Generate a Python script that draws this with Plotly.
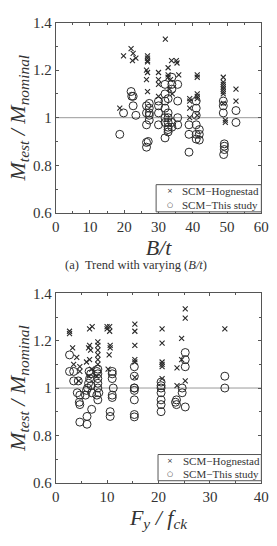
import plotly.graph_objects as go

# ---- (a) B/t ----
bt_hog_x = [18.7, 19.8, 22.0, 22.6, 22.4, 23.4,
            26.8, 26.8, 26.8, 26.8, 26.5, 26.5, 26.8, 26.8,
            30.0, 30.0, 30.0, 30.0,
            32.0, 32.8, 32.8, 32.8, 33.2, 33.8, 35.2, 35.4, 35.9, 34.0, 33.5,
            39.1, 39.1, 39.1, 39.1,
            41.3, 41.3, 41.3, 41.3, 41.3, 41.3,
            48.9, 48.9, 48.9, 48.9, 48.9, 48.9, 48.9, 48.9, 49.5, 49.5,
            52.6, 52.6]
bt_hog_y = [1.04, 1.26, 1.29, 1.27, 1.24, 1.25,
            1.26, 1.25, 1.24, 1.235, 1.20, 1.16, 1.19, 1.11,
            1.19, 1.16, 1.14, 1.09,
            1.33, 1.21, 1.18, 1.17, 1.12, 1.24, 1.24, 1.23, 1.18, 1.10, 1.16,
            1.08, 1.07, 1.04, 1.00,
            1.18, 1.17, 1.10, 1.09, 1.08, 1.01,
            1.17, 1.15, 1.14, 1.13, 1.12, 1.11, 1.10, 1.06, 0.99, 0.98,
            1.12, 1.07]
bt_this_x = [18.7, 19.8, 22.0, 22.2, 22.6, 22.6, 23.4,
             26.5, 26.5, 26.5, 26.5, 26.5, 27.3, 27.3, 27.3, 27.3, 27.3, 27.0,
             30.0, 30.0, 30.0, 30.0,
             31.9, 31.9, 31.9, 31.9, 31.9, 31.9, 31.9,
             32.8, 32.8, 32.8, 32.8, 32.8, 32.8, 32.8,
             33.9, 33.9, 33.9, 33.9, 33.9,
             35.6, 35.6, 35.6, 35.6,
             38.9, 38.9, 38.9,
             41.0, 41.0, 41.0, 41.0, 41.0, 41.0,
             41.9, 41.9, 41.9,
             48.9, 48.9, 48.9, 49.2, 49.2, 49.0, 49.2,
             52.6, 52.6]
bt_this_y = [0.93, 1.02, 1.11, 1.09, 1.09, 1.05, 1.01,
             1.05, 1.02, 0.97, 0.896, 0.876, 1.06, 1.04, 1.02, 1.01, 0.99, 0.90,
             1.07, 1.05, 1.02, 0.97,
             1.14, 1.10, 1.07, 1.04, 1.00, 0.98, 0.915,
             1.08, 1.02, 1.00, 0.98, 0.96, 0.95, 0.94,
             1.17, 1.14, 1.12, 0.98, 0.96,
             1.14, 1.07, 1.00, 0.97,
             0.97, 0.93, 0.855,
             1.07, 1.04, 1.01, 0.97, 0.93, 0.91,
             0.95, 0.93, 0.906,
             1.07, 1.05, 1.02, 0.88, 0.866, 0.845, 0.89,
             1.03, 0.98]

# ---- (b) Fy/fck ----
fy_hog_x = [2.7, 2.7, 3.3, 4.1, 3.5, 4.7, 4.7, 4.5,
            6.6, 7.1, 6.4, 6.6, 6.8, 6.0, 6.6, 7.0, 6.5,
            8.2, 8.2, 8.2, 8.2, 8.2, 8.2, 8.0,
            10.0, 10.0, 10.5, 10.5, 10.4, 10.6, 10.6, 10.2,
            15.4, 15.4, 15.4, 15.4, 15.4, 15.4,
            20.7, 20.7, 20.7, 20.7, 20.7, 20.7,
            23.6, 23.6, 24.5, 24.5,
            25.2, 25.2, 25.2,
            32.9]
fy_hog_y = [1.24, 1.23, 1.17, 1.13, 1.10, 1.09, 1.07, 1.03,
            1.25, 1.26, 1.17, 1.18, 1.16, 1.11, 1.12, 1.08, 1.05,
            1.195, 1.18, 1.16, 1.14, 1.12, 1.10, 1.05,
            1.26, 1.25, 1.26, 1.24, 1.14, 1.17, 1.18, 1.08,
            1.27, 1.24, 1.18, 1.12, 1.11, 1.045,
            1.25, 1.19, 1.11, 1.10, 1.09, 1.04,
            1.085, 1.01, 1.21, 1.12,
            1.335, 1.295, 1.03,
            1.25]
fy_this_x = [2.7, 2.7, 3.5, 3.5, 4.4, 4.2, 4.7, 4.6, 4.7, 4.7,
             6.1, 6.1, 7.0, 5.8, 6.0, 6.2, 6.4, 6.6, 6.8, 7.0, 6.5, 6.9,
             8.2, 8.2, 8.2, 8.2, 8.2, 8.4, 8.0, 8.2, 8.0,
             11.0, 11.0, 11.0, 11.0, 11.0, 10.6, 10.6, 11.2,
             15.3, 15.3, 15.3, 15.3, 15.3, 15.3, 15.3, 15.3,
             20.5, 20.5, 20.5, 20.5, 20.5, 20.5, 20.5,
             23.5, 23.5, 23.3,
             24.6, 24.6,
             25.2, 25.2, 25.2, 25.2,
             32.9, 32.9]
fy_this_y = [1.14, 1.07, 1.07, 1.03, 1.03, 0.98, 0.97, 0.94, 0.93, 0.856,
             0.88, 0.847, 0.91, 0.97, 0.99, 1.00, 1.02, 1.04, 1.06, 0.98, 1.07, 1.01,
             1.08, 1.06, 1.04, 1.02, 1.00, 0.98, 0.97, 0.95, 1.07,
             1.07, 1.06, 1.04, 0.97, 0.96, 0.90, 0.88, 1.00,
             1.09, 1.05, 1.00, 1.00, 0.99, 0.95, 0.888, 0.878,
             1.025, 1.01, 1.00, 0.98, 0.95, 0.93, 0.90,
             0.95, 0.93, 0.94,
             0.98, 1.00,
             1.15, 1.12, 1.09, 0.92,
             1.05, 1.00]

labels = ["SCM\u2212Hognestad", "SCM\u2212This study"]

FONT = "Liberation Serif"
INK = "#333333"
MARK = "#2a2a2a"

fig = go.Figure()

def add_pair(xh, yh, xc, yc, xa, ya):
    fig.add_trace(go.Scatter(x=xh, y=yh, mode="markers", name=labels[0],
                             xaxis=xa, yaxis=ya, showlegend=False,
                             marker=dict(symbol="x-thin", size=5, color=MARK,
                                         line=dict(width=1.1, color=MARK))))
    fig.add_trace(go.Scatter(x=xc, y=yc, mode="markers", name=labels[1],
                             xaxis=xa, yaxis=ya, showlegend=False,
                             marker=dict(symbol="circle-open", size=8, color=MARK,
                                         line=dict(width=1, color=MARK))))

add_pair(bt_hog_x, bt_hog_y, bt_this_x, bt_this_y, "x", "y")
add_pair(fy_hog_x, fy_hog_y, fy_this_x, fy_this_y, "x2", "y2")

W, H = 277, 546
xd = [54 / W, 269 / W]
yd1 = [(H - 211) / H, (H - 15) / H]
yd2 = [(H - 489) / H, (H - 294) / H]

axis_common = dict(showline=True, mirror="ticks", linecolor="#555555", linewidth=1,
                   ticks="inside", ticklen=3, tickcolor="#555555",
                   showgrid=False, zeroline=False,
                   tickfont=dict(family=FONT, size=15, color=INK))

ytitle = "<i>M</i><sub><i>test</i></sub><i> / M</i><sub><i>nominal</i></sub>"
minor_x = dict(dtick=5, ticks="inside", ticklen=2, tickcolor="#555555")
minor_y = dict(dtick=0.1, ticks="inside", ticklen=2, tickcolor="#555555")

fig.update_layout(
    width=W, height=H, margin=dict(l=0, r=0, t=0, b=0),
    paper_bgcolor="white", plot_bgcolor="white",
    font=dict(family=FONT, color=INK),
    showlegend=False,
    xaxis=dict(domain=xd, anchor="y", range=[0, 60], dtick=10, minor=minor_x,
               title=dict(text="<i>B/t</i>", font=dict(family=FONT, size=22, color=INK), standoff=0),
               **axis_common),
    yaxis=dict(domain=yd1, anchor="x", range=[0.6, 1.4], dtick=0.2, tickformat="~g", minor=minor_y,
               title=dict(text=ytitle, font=dict(family=FONT, size=22, color=INK), standoff=1),
               **axis_common),
    xaxis2=dict(domain=xd, anchor="y2", range=[0, 40], dtick=10, minor=minor_x,
                title=dict(text="<i>F</i><sub><i>y</i></sub><i> / f</i><sub><i>ck</i></sub>",
                           font=dict(family=FONT, size=22, color=INK), standoff=0),
                **axis_common),
    yaxis2=dict(domain=yd2, anchor="x2", range=[0.6, 1.4], dtick=0.2, tickformat="~g", minor=minor_y,
                title=dict(text=ytitle, font=dict(family=FONT, size=22, color=INK), standoff=1),
                **axis_common),
)

# reference line at 1
for xa, ya in (("x", "y"), ("x2", "y2")):
    fig.add_shape(type="line", xref=f"{xa} domain", yref=ya, x0=0, x1=1, y0=1, y1=1,
                  line=dict(color="#999999", width=1), layer="below")

def py(p):
    return (H - p) / H

def px(p):
    return p / W

# compact legends: box, symbols, labels
for (bx0, by0, bx1, by1, r1, r2, sx, tx) in ((159, 182, 269, 210, 189, 202.5, 173, 184),
                                              (161, 460, 269, 487, 467, 480.5, 174, 185)):
    fig.add_shape(type="rect", xref="paper", yref="paper",
                  x0=px(bx0), x1=px(bx1), y0=py(by1), y1=py(by0),
                  line=dict(color="#555555", width=1), fillcolor="white")
    for ry, sym, lab in ((r1, "\u00d7", labels[0]), (r2, "\u25cb", labels[1])):
        fig.add_annotation(text=sym, xref="paper", yref="paper", x=px(sx), y=py(ry),
                           showarrow=False, xanchor="center", yanchor="middle",
                           font=dict(family="DejaVu Sans", size=7, color=MARK))
        fig.add_annotation(text=lab, xref="paper", yref="paper", x=px(tx), y=py(ry),
                           showarrow=False, xanchor="left", yanchor="middle",
                           font=dict(family=FONT, size=11, color=INK))

fig.add_annotation(text="(a)  Trend with varying (<i>B/t</i>)", xref="paper", yref="paper",
                   x=138 / W, y=py(265), showarrow=False,
                   font=dict(family=FONT, size=12.5, color=INK))

fig.write_html("out.html")
